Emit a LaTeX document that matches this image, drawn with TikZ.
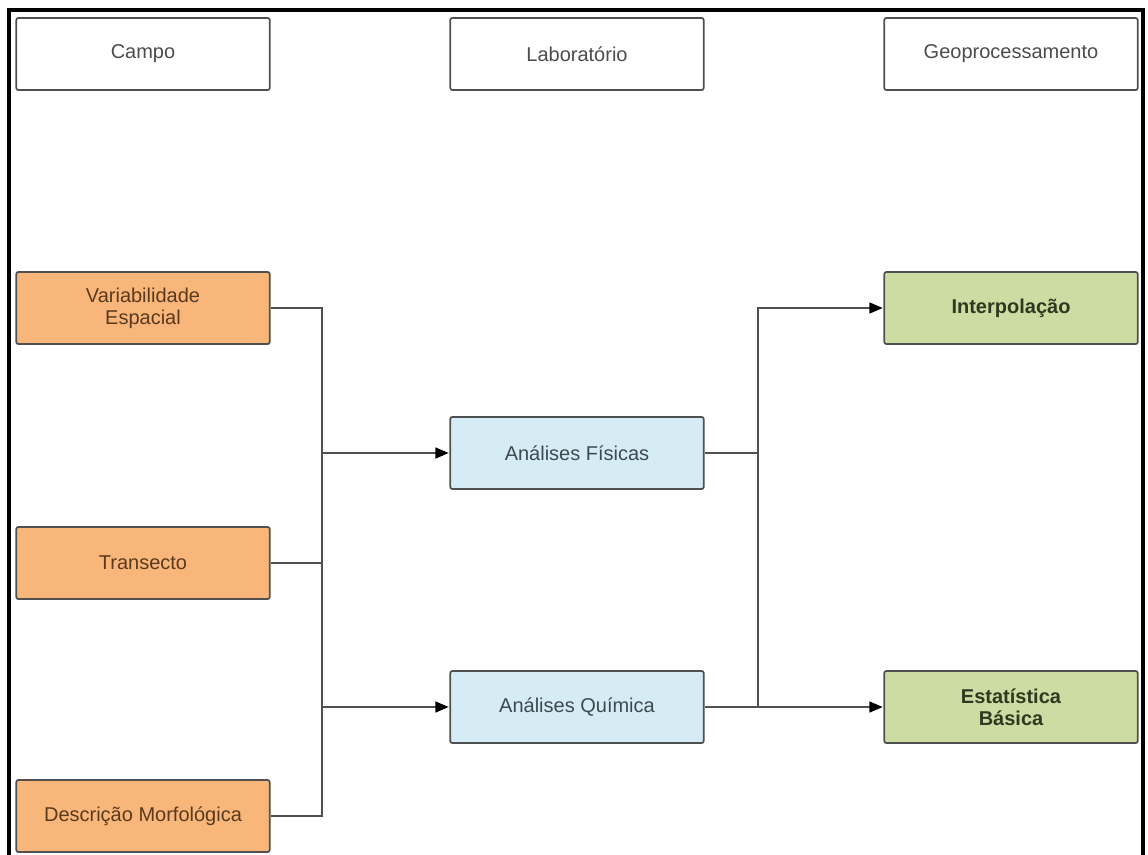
\documentclass[tikz,border=0pt]{standalone}
\usepackage{fontspec}
\setmainfont{Liberation Sans}
\usetikzlibrary{arrows.meta,positioning}

\definecolor{campofill}{HTML}{F9B67A}
\definecolor{campotext}{HTML}{5A3A1E}
\definecolor{labfill}{HTML}{D5ECF4}
\definecolor{labtext}{HTML}{3E4A52}
\definecolor{geofill}{HTML}{CDDCA2}
\definecolor{geotext}{HTML}{2E3A20}
\definecolor{edge}{HTML}{505050}

\begin{document}
\begin{tikzpicture}[
  x=0.75pt, y=-0.75pt,
  box/.style={
    rectangle,
    draw=edge,
    line width=1.3pt,
    rounded corners=1.5pt,
    align=center,
    minimum width=190pt,
    minimum height=54pt,
    inner sep=2pt,
    font=\fontsize{15}{16.5}\selectfont
  },
  head/.style={box, fill=white, text=black!70},
  campo/.style={box, fill=campofill, text=campotext},
  lab/.style={box, fill=labfill, text=labtext},
  geo/.style={box, fill=geofill, text=geotext, font=\fontsize{15}{16.5}\selectfont\bfseries},
  line/.style={draw=edge, line width=1.7pt},
  arr/.style={line, -{Triangle[length=10pt,width=8pt,fill=black,color=black]}, shorten >=0.5pt}
]
\useasboundingbox (0,0) rectangle (1148,854);
\draw[line width=2.4pt] (9,856) -- (9,10) -- (1143,10) -- (1143,856);

% column headers
\node[head] (campo) at (143,54) {Campo};
\node[head] (lab) at (577,54) {Laboratório};
\node[head] (geo) at (1011,54) {Geoprocessamento};

% field
\node[campo] (var) at (143,308) {Variabilidade\\Espacial};
\node[campo] (trans) at (143,563) {Transecto};
\node[campo] (desc) at (143,816) {Descrição Morfológica};

% laboratory
\node[lab] (fis) at (577,453) {Análises Físicas};
\node[lab] (qui) at (577,707) {Análises Química};

% geoprocessing
\node[geo] (interp) at (1011,308) {Interpolação};
\node[geo] (estat) at (1011,707) {Estatística\\Básica};

\coordinate (lbus) at (322,563);
\coordinate (rbus) at (758,707);

\draw[line] (var.east) -| (lbus) |- (desc.east);
\draw[line] (trans.east) -- (lbus);
\draw[arr] (lbus |- fis.west) -- (fis.west);
\draw[arr] (lbus |- qui.west) -- (qui.west);
\draw[line] (fis.east) -- (rbus |- fis.east);
\draw[arr] (qui.east) -- (estat.west);
\draw[arr] (rbus) |- (interp.west);
\end{tikzpicture}
\end{document}
